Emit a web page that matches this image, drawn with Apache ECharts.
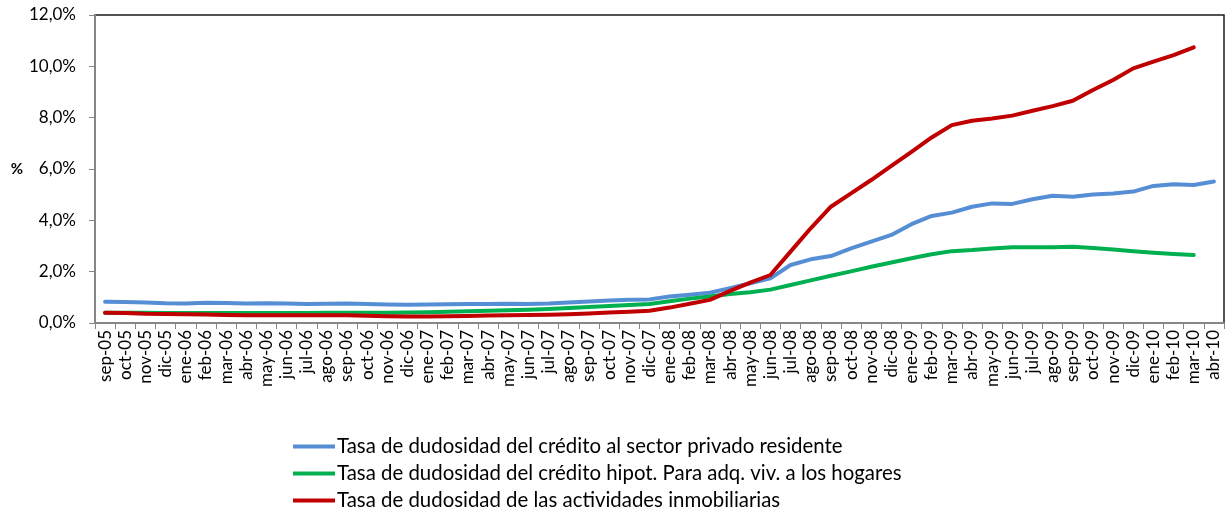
<!DOCTYPE html>
<html>
<head>
<meta charset="utf-8">
<script src="https://cdn.jsdelivr.net/npm/echarts@6/dist/echarts.min.js"></script>
<style>
html,body{margin:0;padding:0;background:#fff;}
#chart{width:1226px;height:513px;}
</style>
</head>
<body>
<div id="chart"></div>
<script>
const categories = ["sep-05","oct-05","nov-05","dic-05","ene-06","feb-06","mar-06","abr-06","may-06","jun-06","jul-06","ago-06","sep-06","oct-06","nov-06","dic-06","ene-07","feb-07","mar-07","abr-07","may-07","jun-07","jul-07","ago-07","sep-07","oct-07","nov-07","dic-07","ene-08","feb-08","mar-08","abr-08","may-08","jun-08","jul-08","ago-08","sep-08","oct-08","nov-08","dic-08","ene-09","feb-09","mar-09","abr-09","may-09","jun-09","jul-09","ago-09","sep-09","oct-09","nov-09","dic-09","ene-10","feb-10","mar-10","abr-10"];

const seriesNames = [
  "Tasa de dudosidad del crédito al sector privado residente",
  "Tasa de dudosidad del crédito hipot. Para adq. viv. a los hogares",
  "Tasa de dudosidad de las actividades inmobiliarias"
];

const privadoResidente = [0.83,0.82,0.80,0.77,0.76,0.79,0.78,0.76,0.77,0.76,0.74,0.75,0.76,0.74,0.72,0.71,0.72,0.73,0.74,0.74,0.75,0.74,0.76,0.80,0.84,0.88,0.91,0.92,1.03,1.10,1.18,1.36,1.55,1.74,2.26,2.48,2.61,2.91,3.17,3.43,3.85,4.17,4.30,4.53,4.66,4.64,4.82,4.96,4.92,5.01,5.05,5.12,5.34,5.41,5.38,5.51];

const hipotecarioHogares = [0.40,0.40,0.40,0.39,0.39,0.39,0.39,0.39,0.39,0.39,0.39,0.40,0.40,0.40,0.40,0.41,0.42,0.44,0.46,0.48,0.50,0.52,0.55,0.58,0.62,0.66,0.70,0.74,0.85,0.95,1.03,1.13,1.20,1.30,1.48,1.66,1.84,2.01,2.19,2.36,2.52,2.68,2.80,2.84,2.90,2.95,2.95,2.95,2.97,2.92,2.86,2.80,2.74,2.69,2.65];

const inmobiliarias = [0.40,0.39,0.36,0.35,0.34,0.33,0.31,0.30,0.30,0.30,0.30,0.30,0.30,0.28,0.26,0.25,0.25,0.26,0.27,0.29,0.30,0.31,0.32,0.34,0.37,0.41,0.44,0.48,0.60,0.75,0.90,1.25,1.57,1.87,2.78,3.69,4.53,5.05,5.57,6.12,6.67,7.23,7.71,7.88,7.97,8.08,8.27,8.45,8.66,9.08,9.47,9.92,10.18,10.44,10.74];

const yTicks = [0, 2, 4, 6, 8, 10, 12];
const colors = ["#558ED5", "#00B050", "#C00000"];

const font = "Lato, 'Open Sans', sans-serif";
const chart = echarts.init(document.getElementById('chart'), null, {renderer: 'canvas'});

function mkSeries(name, data, color) {
  return {
    name: name,
    type: 'line',
    data: data,
    symbol: 'none',
    smooth: false,
    lineStyle: {color: color, width: 4, cap: 'round', join: 'round'},
    itemStyle: {color: color},
    emphasis: {disabled: true}
  };
}

chart.setOption({
  animation: false,
  backgroundColor: '#fff',
  textStyle: {fontFamily: font},
  grid: {
    left: 95, right: 2, top: 15, bottom: 190,
    show: true, borderColor: '#1a1a1a', borderWidth: 1.5
  },
  legend: {
    orient: 'vertical',
    left: 293,
    top: 436,
    height: 120,
    padding: 0,
    itemWidth: 42,
    itemHeight: 4,
    itemGap: 6,
    icon: 'rect',
    textStyle: {fontFamily: font, fontSize: 20.4, color: '#000', lineHeight: 21, padding: [0, 0, 0, -3]},
    data: seriesNames
  },
  xAxis: {
    type: 'category',
    data: categories,
    boundaryGap: true,
    axisLine: {lineStyle: {color: '#868686', width: 2}},
    axisTick: {show: true, interval: 0, length: 6, lineStyle: {color: '#868686', width: 1}},
    axisLabel: {interval: 0, rotate: 90, margin: 7, fontFamily: font, fontSize: 17, color: '#000'},
    splitLine: {show: false}
  },
  yAxis: {
    type: 'value',
    min: yTicks[0],
    max: yTicks[yTicks.length - 1],
    interval: 2,
    name: '%',
    nameLocation: 'middle',
    nameRotate: 0,
    nameGap: 72,
    nameTextStyle: {fontFamily: font, fontSize: 15, fontWeight: 'bold', color: '#000'},
    axisLine: {show: true, lineStyle: {color: '#868686', width: 2}},
    axisTick: {show: true, inside: false, length: 6, lineStyle: {color: '#868686', width: 1}},
    axisLabel: {
      margin: 19, fontFamily: font, fontSize: 17, color: '#000',
      formatter: function (v) { return v.toFixed(1).replace('.', ',') + '%'; }
    },
    splitLine: {show: false}
  },
  series: [
    mkSeries(seriesNames[0], privadoResidente, colors[0]),
    mkSeries(seriesNames[1], hipotecarioHogares, colors[1]),
    mkSeries(seriesNames[2], inmobiliarias, colors[2])
  ]
});
</script>
</body>
</html>
